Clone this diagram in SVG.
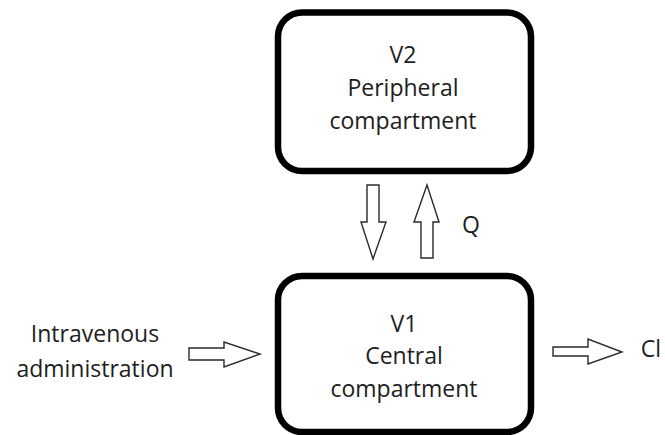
<svg xmlns="http://www.w3.org/2000/svg" width="665" height="435" viewBox="0 0 665 435">
  <style>
    .box { fill: #ffffff; stroke: #000000; stroke-width: 6.5; }
    .label { font-family: "Open Sans", "Liberation Sans", sans-serif; font-size: 23px; fill: #1e1e1e; text-anchor: middle; }
    .block { fill: #ffffff; stroke: #2a2a2a; stroke-width: 1.4; stroke-linejoin: miter; }
  </style>
  <rect width="665" height="435" fill="#ffffff"/>

  <!-- Peripheral compartment -->
  <g id="v2">
    <rect class="box" x="278" y="12.5" width="253" height="158.5" rx="24" ry="24"/>
    <text class="label" x="403" y="63">V2</text>
    <text class="label" x="403" y="96">Peripheral</text>
    <text class="label" x="403" y="129">compartment</text>
  </g>

  <!-- Central compartment -->
  <g id="v1">
    <rect class="box" x="278" y="276" width="253" height="156" rx="24" ry="24"/>
    <text class="label" x="404" y="332">V1</text>
    <text class="label" x="404" y="364">Central</text>
    <text class="label" x="404" y="397">compartment</text>
  </g>

  <!-- Input and output labels -->
  <g id="iv">
    <text class="label" x="95" y="342">Intravenous</text>
    <text class="label" x="95" y="377">administration</text>
  </g>
  <g id="cl">
    <text class="label" x="651" y="357">Cl</text>
  </g>
  <g id="q">
    <text class="label" x="471" y="233">Q</text>
  </g>

  <!-- Block arrows -->
  <g id="connectors">
    <!-- V2 to V1 -->
    <polygon class="block" points="367,185 379,185 379,222 386,222 373,259 361,222 367,222"/>
    <!-- V1 to V2 -->
    <polygon class="block" points="421,258 433,258 433,222 439,222 427,185 414,222 421,222"/>
    <!-- dosing into V1 -->
    <polygon class="block" points="189,348 224,348 224,342 260,354 224,367 224,360 189,360"/>
    <!-- elimination from V1 -->
    <polygon class="block" points="553,347 588,347 588,339 622,352 588,364 588,356 553,356"/>
  </g>
</svg>
